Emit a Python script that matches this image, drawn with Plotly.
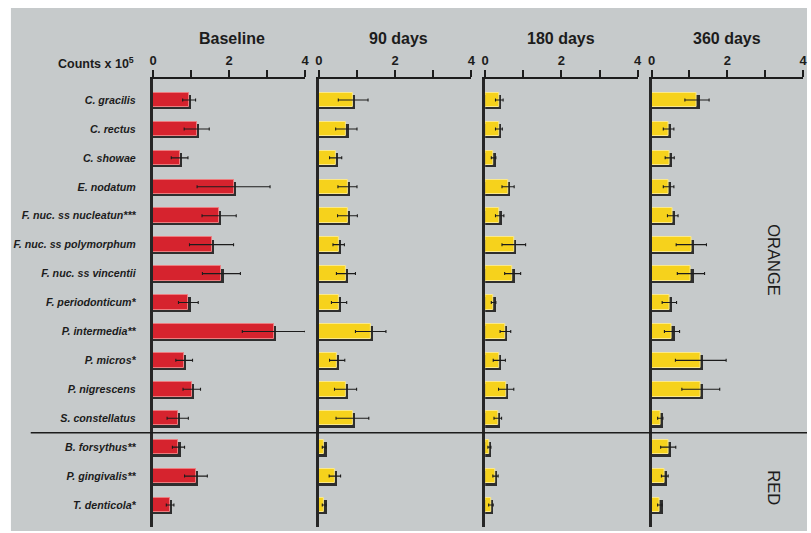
import plotly.graph_objects as go

# Species (top to bottom) and complex groupings
species = [
    "C. gracilis", "C. rectus", "C. showae", "E. nodatum",
    "F. nuc. ss nucleatun***", "F. nuc. ss polymorphum", "F. nuc. ss vincentii",
    "F. periodonticum*", "P. intermedia**", "P. micros*", "P. nigrescens",
    "S. constellatus", "B. forsythus**", "P. gingivalis**", "T. denticola*",
]

# Mean counts (x 10^5) and error half-widths at each visit
baseline = [0.95, 1.15, 0.70, 2.12, 1.74, 1.54, 1.80, 0.93, 3.18, 0.82, 1.02, 0.65, 0.67, 1.13, 0.45]
baseline_err = [0.17, 0.33, 0.22, 0.96, 0.45, 0.58, 0.50, 0.26, 0.83, 0.22, 0.23, 0.28, 0.16, 0.30, 0.10]

days90 = [0.90, 0.72, 0.44, 0.75, 0.75, 0.52, 0.71, 0.53, 1.36, 0.48, 0.70, 0.88, 0.14, 0.42, 0.14]
days90_err = [0.39, 0.28, 0.16, 0.25, 0.26, 0.15, 0.25, 0.20, 0.40, 0.20, 0.29, 0.43, 0.05, 0.15, 0.05]

days180 = [0.37, 0.36, 0.22, 0.60, 0.38, 0.75, 0.72, 0.22, 0.53, 0.37, 0.55, 0.33, 0.11, 0.27, 0.15]
days180_err = [0.10, 0.09, 0.06, 0.16, 0.11, 0.31, 0.21, 0.06, 0.14, 0.16, 0.20, 0.10, 0.04, 0.07, 0.06]

days360 = [1.20, 0.45, 0.48, 0.45, 0.56, 1.05, 1.04, 0.47, 0.54, 1.30, 1.30, 0.23, 0.44, 0.35, 0.22]
days360_err = [0.32, 0.14, 0.12, 0.14, 0.14, 0.40, 0.36, 0.19, 0.20, 0.67, 0.50, 0.07, 0.20, 0.09, 0.06]

panel_titles = ["Baseline", "90 days", "180 days", "360 days"]
major_ticks = [0, 2, 4]
minor_ticks = [1, 3]
n_orange = 12  # first 12 species belong to the orange complex

W, H = 811, 533
FONT = "Liberation Sans"
INK = "#1c1c1c"
RED, RED_EDGE = "#d6232e", "#ec7d80"
YELLOW, YELLOW_EDGE = "#f6d21c", "#fbe98a"
SHADOW = "#2e2e2e"

# Panel extents in pixels (left edge = 0, right edge = 4)
panel_px = [(150.5, 304.0), (318.0, 472.0), (486.0, 640.0), (654.0, 807.0)]
plot_top_px, plot_bot_px = 79.0, 527.0
row0_px, row_step_px = 100.0, 28.93

y_pos = list(range(len(species)))
y_range = [
    (len(species) - 1) + (plot_bot_px - (row0_px + (len(species) - 1) * row_step_px)) / row_step_px,
    (plot_top_px - row0_px) / row_step_px,
]

series = [
    (baseline, baseline_err, RED, RED_EDGE),
    (days90, days90_err, YELLOW, YELLOW_EDGE),
    (days180, days180_err, YELLOW, YELLOW_EDGE),
    (days360, days360_err, YELLOW, YELLOW_EDGE),
]

bar_w = 0.5
shadow_dx = 2.2 * 4 / 154   # shadow offset along x, in data units
shadow_dy = 2.2 / row_step_px

fig = go.Figure()
layout = dict(
    width=W, height=H,
    margin=dict(l=0, r=0, t=0, b=0),
    paper_bgcolor="white",
    plot_bgcolor="rgba(0,0,0,0)",
    showlegend=False,
    bargap=0,
)

for i, (vals, errs, col, edge) in enumerate(series):
    sfx = "" if i == 0 else str(i + 1)
    xa, ya = "x" + sfx, "y" + sfx
    # drop shadow behind each bar
    fig.add_trace(go.Bar(
        x=[v + shadow_dx for v in vals], y=y_pos, orientation="h",
        width=bar_w, offset=-bar_w / 2 + shadow_dy,
        marker=dict(color=SHADOW, line=dict(width=0)),
        xaxis=xa, yaxis=ya, hoverinfo="skip",
    ))
    fig.add_trace(go.Bar(
        x=vals, y=y_pos, orientation="h",
        width=bar_w, offset=-bar_w / 2,
        marker=dict(color=col, line=dict(color=edge, width=1)),
        error_x=dict(type="data", array=errs, symmetric=True,
                     color=INK, thickness=1.1, width=1.5),
        xaxis=xa, yaxis=ya, name=panel_titles[i],
    ))
    x0, x1 = panel_px[i]
    layout["xaxis" + sfx] = dict(
        domain=[x0 / W, x1 / W], range=[0, 4], anchor=ya, side="top",
        tickmode="array", tickvals=major_ticks, ticks="outside", ticklen=7,
        tickwidth=1.5, tickcolor=INK,
        minor=dict(tickmode="array", tickvals=minor_ticks, ticks="outside",
                   ticklen=7, tickwidth=1.5, tickcolor=INK, showgrid=False),
        showline=True, linewidth=2.2,
        linecolor=INK, showgrid=False, zeroline=False, fixedrange=True,
        tickfont=dict(family=FONT, size=13, color=INK, weight="bold"),
    )
    yax = dict(
        domain=[1 - plot_bot_px / H, 1 - plot_top_px / H], range=y_range,
        anchor=xa, showline=True, linewidth=3.2, linecolor="#262626",
        showgrid=False, zeroline=False, fixedrange=True,
    )
    if i == 0:
        yax.update(
            tickmode="array", tickvals=y_pos,
            ticktext=[f"<b><i>{s}</i></b>" for s in species],
            ticks="outside", ticklen=12, tickcolor="rgba(0,0,0,0)",
            tickfont=dict(family=FONT, size=10.7, color=INK),
        )
    else:
        yax.update(showticklabels=False, ticks="")
    layout["yaxis" + sfx] = yax

fig.update_layout(**layout)

# gray card behind the chart
fig.add_shape(type="rect", xref="paper", yref="paper", layer="below",
              x0=7 / W, x1=1, y0=1 - 531 / H, y1=1 - 8 / H,
              fillcolor="#c6cacb", line=dict(width=0))

# separator between the orange and red complexes
fig.add_shape(type="line", xref="paper", yref="y",
              x0=27 / W, x1=1, y0=n_orange - 0.5, y1=n_orange - 0.5,
              line=dict(color=INK, width=1.5))

ann = []
for i, t in enumerate(panel_titles):
    x0, x1 = panel_px[i]
    ann.append(dict(text=t, x=(x0 + x1) / 2 / W + (3 / W if i in (0, 1) else 0),
                    y=1 - 39 / H, xref="paper", yref="paper",
                    showarrow=False, xanchor="center", yanchor="middle",
                    font=dict(family=FONT, size=16, color=INK, weight="bold")))
ann.append(dict(text="Counts x 10<sup>5</sup>", x=133 / W, y=1 - 63 / H,
                xref="paper", yref="paper", showarrow=False,
                xanchor="right", yanchor="middle",
                font=dict(family=FONT, size=12.5, color=INK, weight="bold")))
ann.append(dict(text="ORANGE", x=778 / W, y=(n_orange - 1) / 2 + 0.05,
                xref="paper", yref="y", showarrow=False, textangle=90,
                xanchor="center", yanchor="middle",
                font=dict(family=FONT, size=16.5, color=INK)))
ann.append(dict(text="RED", x=778 / W, y=13.4,
                xref="paper", yref="y", showarrow=False, textangle=90,
                xanchor="center", yanchor="middle",
                font=dict(family=FONT, size=16.5, color=INK)))
fig.update_layout(annotations=ann)

fig.write_html("out.html")
